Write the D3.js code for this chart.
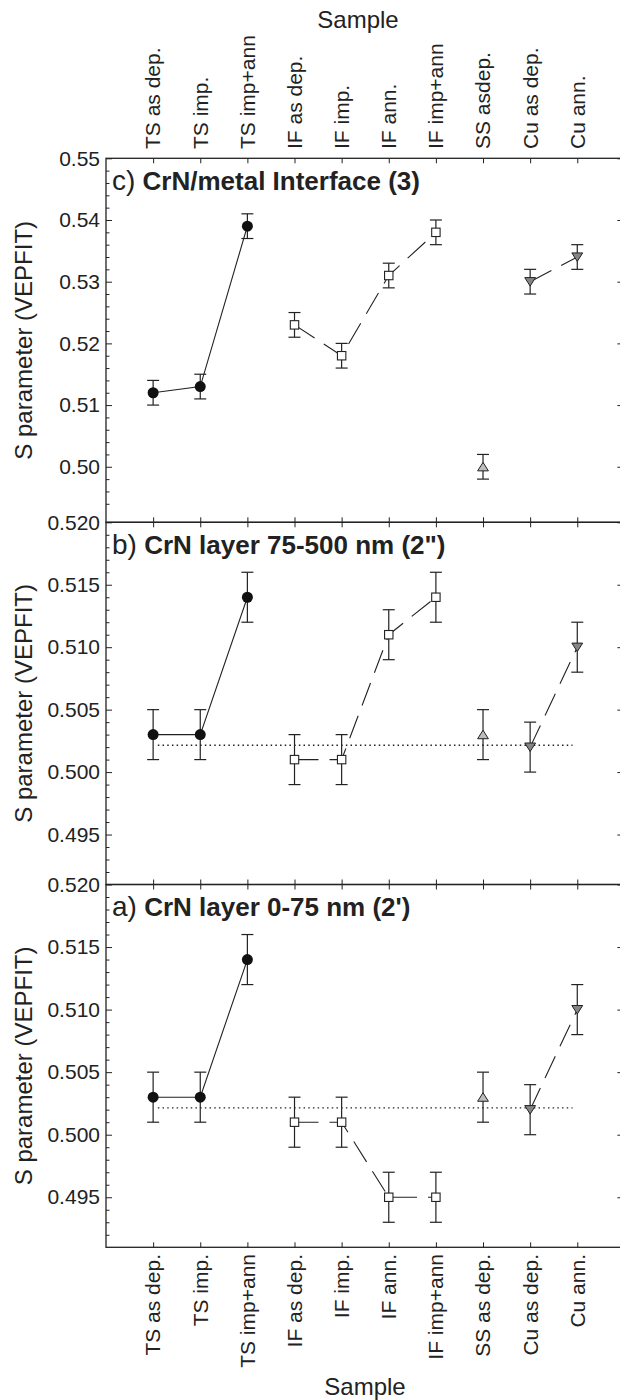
<!DOCTYPE html>
<html>
<head>
<meta charset="utf-8">
<script src="https://cdn.jsdelivr.net/npm/d3@7"></script>
<style>
  body { margin: 0; background: #fff; }
  svg { display: block; font-family: "Liberation Sans", Arial, Helvetica, sans-serif; }
</style>
</head>
<body>
<div id="chart"></div>
<script>
'use strict'

// Samples on the x axis (the top axis spells one of them differently).
const samples = ['TS as dep.', 'TS imp.', 'TS imp+ann', 'IF as dep.', 'IF imp.', 'IF ann.', 'IF imp+ann', 'SS as dep.', 'Cu as dep.', 'Cu ann.'];
const samplesTop = ['TS as dep.', 'TS imp.', 'TS imp+ann', 'IF as dep.', 'IF imp.', 'IF ann.', 'IF imp+ann', 'SS asdep.', 'Cu as dep.', 'Cu ann.'];
const groups = ['TS', 'TS', 'TS', 'IF', 'IF', 'IF', 'IF', 'SS', 'Cu', 'Cu'];

// S parameter (VEPFIT) per panel.
const sInterface = [0.512, 0.513, 0.539, 0.523, 0.518, 0.531, 0.538, 0.500, 0.530, 0.534];
const sLayerDeep = [0.503, 0.503, 0.514, 0.501, 0.501, 0.511, 0.514, 0.503, 0.502, 0.510];
const sLayerTop  = [0.503, 0.503, 0.514, 0.501, 0.501, 0.495, 0.495, 0.503, 0.502, 0.510];
const sError     = [0.002, 0.002, 0.002, 0.002, 0.002, 0.002, 0.002, 0.002, 0.002, 0.002];

// Reference level (dotted line) in panels a and b.
const refS = 0.50215;

// Tick labels.
const ticksC  = [0.50, 0.51, 0.52, 0.53, 0.54, 0.55];
const ticksAB = [0.495, 0.500, 0.505, 0.510, 0.515, 0.520];

// Dimensions.
const width = 620, height = 1400;
const xLeft = 106, xRight = 624.4;
const ink = '#222';

const panels = [
    {letter: 'c)', title: 'CrN/metal Interface (3)', values: sInterface, domain: [0.491, 0.55],
     ticks: ticksC, minorStep: 0.002, fmt: '.2f', ref: false, top: 158.3, bottom: 522.3},
    {letter: 'b)', title: 'CrN layer 75-500 nm (2")', values: sLayerDeep, domain: [0.491, 0.520],
     ticks: ticksAB, minorStep: 0.001, fmt: '.3f', ref: true, top: 522.3, bottom: 884.5},
    {letter: 'a)', title: "CrN layer 0-75 nm (2')", values: sLayerTop, domain: [0.491, 0.520],
     ticks: ticksAB, minorStep: 0.001, fmt: '.3f', ref: true, top: 884.5, bottom: 1247.3}
];

const x = d3.scaleLinear().domain([0, 11]).range([xLeft, xRight]);
const xTicks = d3.range(1, samples.length + 1);

const svg = d3.select('#chart')
    .append('svg')
        .attr('width', width)
        .attr('height', height)
        .attr('viewBox', [0, 0, width, height]);

// Strip d3's axis defaults so the page font and ink are used.
function plain(a) {
    a.attr('font-family', null).attr('font-size', null);
    a.select('.domain').remove();
    a.selectAll('line').attr('stroke', ink);
}

// Draw each panel.
panels.forEach(p => {
    const y = d3.scaleLinear().domain(p.domain).range([p.bottom, p.top]);
    const g = svg.append('g');

    const minor = d3.range(Math.round(p.domain[0] / p.minorStep) + 1, Math.round(p.domain[1] / p.minorStep))
        .map(k => +(k * p.minorStep).toFixed(4))
        .filter(v => !p.ticks.some(t => Math.abs(t - v) < 1e-6));

    // Left axis: major with labels, minor ticks.
    g.append('g')
        .attr('transform', `translate(${xLeft},0)`)
        .call(d3.axisLeft(y).tickValues(p.ticks).tickFormat(d3.format(p.fmt))
            .tickSizeInner(-6).tickSizeOuter(0).tickPadding(6))
        .call(plain)
        .call(a => a.selectAll('text').attr('font-size', 21).attr('fill', ink));

    g.append('g')
        .attr('transform', `translate(${xLeft},0)`)
        .call(d3.axisLeft(y).tickValues(minor).tickFormat('').tickSizeInner(-3.5).tickSizeOuter(0))
        .call(plain);

    // Right axis ticks.
    g.append('g')
        .attr('transform', `translate(${xRight},0)`)
        .call(d3.axisRight(y).tickValues(p.ticks).tickFormat('').tickSizeInner(-7).tickSizeOuter(0))
        .call(plain);

    // Top and bottom ticks.
    g.append('g')
        .attr('transform', `translate(0,${p.top})`)
        .call(d3.axisTop(x).tickValues(xTicks).tickFormat('').tickSizeInner(-5).tickSizeOuter(0))
        .call(plain);

    g.append('g')
        .attr('transform', `translate(0,${p.bottom})`)
        .call(d3.axisBottom(x).tickValues(xTicks).tickFormat('').tickSizeInner(-5).tickSizeOuter(0))
        .call(plain);

    // Frame.
    g.append('rect')
        .attr('x', xLeft).attr('y', p.top)
        .attr('width', xRight - xLeft).attr('height', p.bottom - p.top)
        .attr('fill', 'none').attr('stroke', ink).attr('stroke-width', 1.3);

    // Panel title.
    const title = g.append('text')
        .attr('x', xLeft + 6)
        .attr('y', p.top + 31.5)
        .attr('fill', ink);
    title.append('tspan').attr('font-size', 28).text(p.letter);
    title.append('tspan').attr('font-size', 26).attr('font-weight', 'bold').text(' ' + p.title);

    // Y title.
    g.append('text')
        .attr('transform', `translate(31.5,${(p.top + p.bottom) / 2}) rotate(-90)`)
        .attr('text-anchor', 'middle')
        .attr('font-size', 24)
        .attr('fill', ink)
        .text('S parameter (VEPFIT)');

    // Reference dotted line.
    if (p.ref) {
        g.append('line')
            .attr('x1', x(1.1)).attr('x2', x(9.9))
            .attr('y1', y(refS)).attr('y2', y(refS))
            .attr('stroke', ink).attr('stroke-width', 1.3)
            .attr('stroke-dasharray', '1.5,3.2');
    }

    const pts = p.values.map((v, i) => ({i: i + 1, v: v, e: sError[i], group: groups[i]}));

    // Connecting lines per sample group.
    const line = d3.line().x(d => x(d.i)).y(d => y(d.v));
    ['TS', 'IF', 'Cu'].forEach(grp => {
        g.append('path')
            .datum(pts.filter(d => d.group === grp))
            .attr('d', line)
            .attr('fill', 'none')
            .attr('stroke', ink)
            .attr('stroke-width', 1.1)
            .attr('stroke-dasharray', grp === 'TS' ? null : '24,11');
    });

    // Error bars.
    const bars = g.append('g').attr('stroke', ink).attr('stroke-width', 1.2);
    bars.selectAll('line.v')
        .data(pts)
        .join('line')
            .attr('x1', d => x(d.i)).attr('x2', d => x(d.i))
            .attr('y1', d => y(d.v - d.e)).attr('y2', d => y(d.v + d.e));
    bars.selectAll('line.capHi')
        .data(pts)
        .join('line')
            .attr('x1', d => x(d.i) - 6).attr('x2', d => x(d.i) + 6)
            .attr('y1', d => y(d.v + d.e)).attr('y2', d => y(d.v + d.e));
    bars.selectAll('line.capLo')
        .data(pts)
        .join('line')
            .attr('x1', d => x(d.i) - 6).attr('x2', d => x(d.i) + 6)
            .attr('y1', d => y(d.v - d.e)).attr('y2', d => y(d.v - d.e));

    // Markers.
    pts.forEach(d => {
        const cx = x(d.i), cy = y(d.v);
        if (d.group === 'TS') {
            g.append('circle').attr('cx', cx).attr('cy', cy).attr('r', 5.5)
                .attr('fill', '#111');
        } else if (d.group === 'IF') {
            g.append('rect').attr('x', cx - 4.2).attr('y', cy - 4.2)
                .attr('width', 8.4).attr('height', 8.4)
                .attr('fill', '#fff').attr('stroke', ink).attr('stroke-width', 1.1);
        } else if (d.group === 'SS') {
            g.append('path')
                .attr('d', `M${cx - 5.4},${cy + 4.1}L${cx + 5.4},${cy + 4.1}L${cx},${cy - 4.4}Z`)
                .attr('fill', '#bdbdbd').attr('stroke', ink).attr('stroke-width', 1);
        } else {
            g.append('path')
                .attr('d', `M${cx - 5.4},${cy - 4.1}L${cx + 5.4},${cy - 4.1}L${cx},${cy + 4.4}Z`)
                .attr('fill', '#858585').attr('stroke', ink).attr('stroke-width', 1);
        }
    });
});

// Sample labels, top and bottom.
svg.append('g')
    .selectAll('text')
    .data(samplesTop)
    .join('text')
        .attr('transform', (d, i) => `translate(${x(i + 1)},149) rotate(-90)`)
        .attr('dy', '0.35em')
        .attr('text-anchor', 'start')
        .attr('font-size', 21)
        .attr('fill', ink)
        .text(d => d);

svg.append('g')
    .selectAll('text')
    .data(samples)
    .join('text')
        .attr('transform', (d, i) => `translate(${x(i + 1)},1254) rotate(-90)`)
        .attr('dy', '0.35em')
        .attr('text-anchor', 'end')
        .attr('font-size', 21)
        .attr('fill', ink)
        .text(d => d);

svg.append('text')
    .attr('x', 358).attr('y', 28)
    .attr('text-anchor', 'middle')
    .attr('font-size', 24)
    .attr('fill', ink)
    .text('Sample');

svg.append('text')
    .attr('x', 365).attr('y', 1395)
    .attr('text-anchor', 'middle')
    .attr('font-size', 24)
    .attr('fill', ink)
    .text('Sample');
</script>
</body>
</html>
